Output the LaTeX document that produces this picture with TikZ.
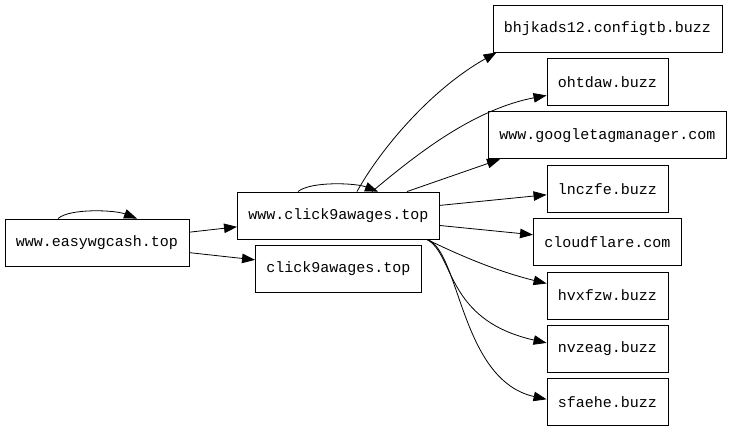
\documentclass[tikz,border=0pt]{standalone}
\usepackage{fontspec}
\setmonofont{Liberation Mono}
\usepackage{tikz}
\usetikzlibrary{positioning,arrows.meta}

\begin{document}
\begin{tikzpicture}[
  x=1pt, y=-1pt,
  site/.style={draw, line width=0.9pt, inner xsep=11pt, inner ysep=0pt,
    minimum height=47pt, font=\ttfamily\fontsize{15}{18}\selectfont},
  link/.style={-{Triangle[length=13pt,width=9.5pt]}, line width=0.8pt},
  node distance=5.5pt
]
\useasboundingbox (0,0) rectangle (732,432);
\node[site] (ewc) at (97,242.5) {www.easywgcash.top};
\node[site] (www) at (338.5,215.5) {www.click9awages.top};
\node[site] (c9a) at (338.5,269) {click9awages.top};
\node[site] (bhj) at (607.5,28.5) {bhjkads12.configtb.buzz};
\node[site, below=of bhj] (oht) {ohtdaw.buzz};
\node[site, below=of oht] (gtm) {www.googletagmanager.com};
\node[site, below=of gtm] (lnc) {lnczfe.buzz};
\node[site, below=of lnc] (cfl) {cloudflare.com};
\node[site, below=of cfl] (hvx) {hvxfzw.buzz};
\node[site, below=of hvx] (nvz) {nvzeag.buzz};
\node[site, below=of nvz] (sfa) {sfaehe.buzz};

\draw[link] ([xshift=-39pt]ewc.north) .. controls (70,208) and (115,210) .. ([xshift=40pt]ewc.north);
\draw[link] (ewc) -- (www);
\draw[link] (ewc) -- (c9a);

\draw[link] ([xshift=-40.5pt]www.north) .. controls (311,181) and (356,183) .. ([xshift=39.5pt]www.north);
\draw[link] ([xshift=18.5pt]www.north) .. controls (380,150) and (430,90) .. ([xshift=4pt]bhj.south west);
\draw[link] ([xshift=33.5pt]www.north) .. controls (410,160) and (470,110) .. ([yshift=-13.5pt]oht.west);
\draw[link] ([xshift=68.5pt]www.north) -- ([xshift=12pt]gtm.south west);
\draw[link] (www) -- (lnc);
\draw[link] (www) -- (cfl);
\draw[link] ([xshift=-13pt]www.south east) .. controls (465,258) and (500,272) .. ([yshift=12pt]hvx.west);
\draw[link] ([xshift=-13pt]www.south east) .. controls (455,255) and (445,320) .. ([yshift=6pt]nvz.west);
\draw[link] ([xshift=-13pt]www.south east) .. controls (460,250) and (460,380) .. ([yshift=3pt]sfa.west);
\end{tikzpicture}
\end{document}
